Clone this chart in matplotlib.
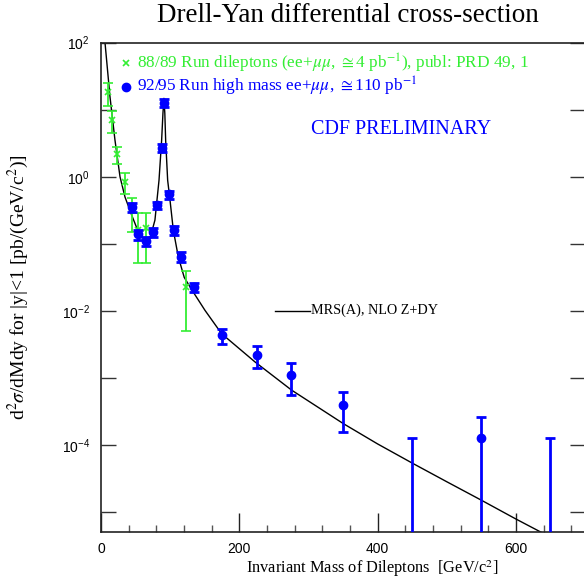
import matplotlib
matplotlib.use('Agg')
import matplotlib.pyplot as plt
import numpy as np
from matplotlib.ticker import FixedLocator, MultipleLocator, NullLocator, FuncFormatter

plt.rcParams['mathtext.fontset'] = 'stix'
SERIF = ['Liberation Serif', 'DejaVu Serif']
SANS = ['Liberation Sans', 'DejaVu Sans']

# theory curve MRS(A), NLO Z+DY
theory_m = [5.0, 5.8, 13.0, 20.2, 27.5, 34.7, 44.4, 54.0, 63.6, 70.8, 78.0, 83.9, 87.7,
            89.6, 91.0, 92.3, 93.5, 96.4, 99.8, 104.6, 111.8, 120.4, 131.0, 150.4,
            174.5, 222.6, 275.6, 350.4, 400.0, 450.6, 500.0, 550.4, 600.0, 640.0]
theory_v = [130.0, 100.0, 15.6, 3.53, 1.0, 0.50, 0.268, 0.151, 0.1135, 0.120, 0.226, 0.89, 3.53,
            8.9, 14.8, 8.9, 3.53, 0.89, 0.449, 0.160, 0.064, 0.0316, 0.0209, 0.0102,
            0.00457, 0.00174, 6.6e-4, 2.09e-4, 1.04e-4, 5.35e-5, 2.84e-5, 1.5e-5, 7.9e-6, 4.8e-6]

# 88/89 run dileptons
mass_g = [10.6, 16.4, 22.7, 34.7, 45.3, 54.0, 64.6, 122.4]
val_g = [18.5, 7.0, 2.16, 0.84, 0.344, 0.16, 0.17, 0.0228]
hi_g = [24.8, 9.6, 2.8, 1.15, 0.486, 0.29, 0.29, 0.0398]
lo_g = [11.4, 4.44, 1.55, 0.552, 0.148, 0.051, 0.051, 0.0050]

# 92/95 run high mass
mass_b = [45, 54, 65, 75.5, 81, 87.7, 91, 98.3, 105.5, 115.7, 134.4, 175, 225, 275, 350, 450, 550, 650]
val_b = [0.356, 0.138, 0.111, 0.148, 0.38, 2.71, 12.7, 0.546, 0.160, 0.064, 0.0228,
         0.00434, 0.00218, 0.0011, 3.9e-4, 0.0, 1.29e-4, 0.0]
hi_b = [0.401, 0.160, 0.127, 0.170, 0.424, 3.04, 14.4, 0.612, 0.184, 0.076, 0.0262,
        0.00546, 0.0030, 0.00167, 6.1e-4, 1.29e-4, 2.62e-4, 1.29e-4]
lo_b = [0.301, 0.116, 0.0924, 0.127, 0.330, 2.36, 11.1, 0.465, 0.135, 0.0539, 0.019,
        0.00326, 0.00141, 0.000552, 1.56e-4, 0.0, 0.0, 0.0]

y_decades = [1e-5, 1e-4, 1e-3, 1e-2, 1e-1, 1e0, 1e1, 1e2]

GREEN = '#33ee33'
BLUE = '#0000ff'

fig = plt.figure(figsize=(5.84, 5.81), dpi=100)
ax = fig.add_axes([101 / 584, 48.7 / 581, 484 / 584, 489.6 / 581])
ax.set_yscale('log', nonpositive='clip')
ax.set_xlim(0, 700)
ax.set_ylim(5e-6, 100)

ax.plot(theory_m, theory_v, color='black', lw=1.0, zorder=2)

vg = np.array(val_g)
ax.errorbar(mass_g, vg, yerr=[vg - np.array(lo_g), np.array(hi_g) - vg], fmt='x',
            color=GREEN, ms=4, mew=1.2, elinewidth=1.3, capsize=3.6, capthick=1.3, zorder=3)

vb = np.array(val_b)
ax.errorbar(mass_b, vb, yerr=[vb - np.array(lo_b), np.array(hi_b) - vb], fmt='none',
            ecolor=BLUE, elinewidth=2, capsize=3.4, capthick=2, zorder=4)
has = vb > 0
ax.plot(np.array(mass_b)[has], vb[has], 'o', color=BLUE, ms=6, zorder=5)

# axes and ticks
ax.xaxis.set_major_locator(MultipleLocator(200))
ax.xaxis.set_minor_locator(MultipleLocator(40))
ax.yaxis.set_major_locator(FixedLocator(y_decades))
ax.yaxis.set_minor_locator(NullLocator())


def ylab(v, pos):
    e = int(round(np.log10(v)))
    return r'$\mathregular{10^{%d}}$' % e if e % 2 == 0 else ''


ax.yaxis.set_major_formatter(FuncFormatter(ylab))
ax.tick_params(axis='x', which='major', direction='in', length=14, width=1, pad=7,
               top=False, color='#222222', labelsize=10)
ax.tick_params(axis='x', which='minor', direction='in', length=5, width=1, top=False, color='#555555')
ax.tick_params(axis='y', which='major', direction='in', length=11, width=1, pad=8,
               left=True, right=True, color='#333333', labelsize=10)
for lab in ax.get_xticklabels() + ax.get_yticklabels():
    lab.set_family(SANS)
for s in ax.spines.values():
    s.set_linewidth(1.2)
    s.set_color('#222222')

# texts
fig.text(0.596, 0.974, 'Drell-Yan differential cross-section', ha='center', va='center',
         fontsize=19.5, family=SERIF)
ax.set_ylabel(r'd$^2\sigma$/dMdy for |y|<1 [pb/(GeV/c$^2$)]', family=SERIF, fontsize=14, labelpad=22)
fig.text(372 / 584, 1 - 569 / 581, r'Invariant Mass of Dileptons  [GeV/c$^2$]', ha='center',
         va='center', fontsize=11.8, family=SERIF)

ax.plot([0.0517], [0.9585], 'x', color=GREEN, ms=4, mew=1.2, transform=ax.transAxes)
ax.text(0.0744, 0.9585, r'88/89 Run dileptons (ee+$\mu\mu$, $\cong$4 pb$^{-1}$), publ: PRD 49, 1',
        color=GREEN, transform=ax.transAxes, va='center', fontsize=12.4, family=SERIF)
ax.plot([0.051], [0.910], 'o', color=BLUE, ms=6, transform=ax.transAxes)
ax.text(0.0744, 0.910, r'92/95 Run high mass ee+$\mu\mu$, $\cong$110 pb$^{-1}$',
        color=BLUE, transform=ax.transAxes, va='center', fontsize=12.4, family=SERIF)
ax.text(0.62, 0.822, 'CDF PRELIMINARY', color=BLUE, transform=ax.transAxes, ha='center',
        va='center', fontsize=14.5, family=SERIF)
ax.plot([0.3595, 0.4318], [0.4526, 0.4526], color='black', lw=1, transform=ax.transAxes)
ax.text(0.434, 0.4526, 'MRS(A), NLO Z+DY', transform=ax.transAxes, va='center',
        fontsize=10.2, family=SERIF)

fig.savefig('out.png', dpi=100)
